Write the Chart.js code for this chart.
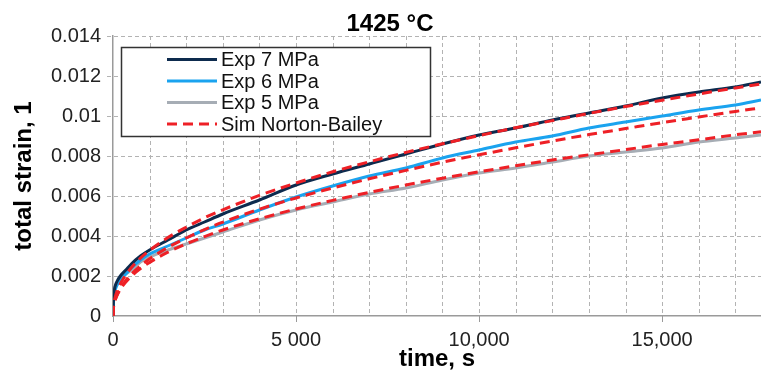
<!DOCTYPE html>
<html lang="en">
<head>
    <meta charset="UTF-8">
    <title>1425 °C creep strain</title>
    <script src="https://cdn.jsdelivr.net/npm/chart.js"></script>
    <style>
        body {
            margin: 0;
            font-family: "Liberation Sans", Arial, sans-serif;
        }
        .wrap {
            position: relative;
            width: 761px;
            height: 376px;
        }
    </style>
</head>
<body>
    <div class="wrap">
        <canvas id="creepChart" width="761" height="376"></canvas>
    </div>
    <script>
        // time, s
        const times = [0, 10, 30, 60, 100, 200, 350, 500, 750, 1000, 1500, 2000, 2500, 3000, 4000, 5000,
            6000, 7000, 8000, 9000, 10000, 11000, 12000, 13000, 14000, 15000, 16000, 17000, 17700];

        // measured total strain
        const exp7 = [0, 0.0007, 0.0012, 0.0015, 0.0017, 0.0020, 0.0023, 0.0026, 0.0030, 0.0033, 0.0038, 0.0043, 0.0047, 0.0051, 0.0058, 0.00655,
            0.0071, 0.0076, 0.0081, 0.0086, 0.00905, 0.0094, 0.0098, 0.01015, 0.0105, 0.0109, 0.0112, 0.01145, 0.0117];
        const exp6 = [0, 0.0006, 0.0010, 0.0013, 0.0015, 0.0018, 0.0021, 0.0024, 0.0028, 0.0031, 0.0035, 0.0039, 0.0043, 0.0046, 0.0053, 0.00595,
            0.0065, 0.0070, 0.0074, 0.0079, 0.0083, 0.0087, 0.0090, 0.0094, 0.0097, 0.0100, 0.0103, 0.01055, 0.0108];
        const exp5 = [0, 0.0007, 0.0012, 0.0015, 0.0016, 0.0018, 0.0021, 0.0023, 0.0027, 0.00295, 0.0033, 0.0036, 0.0039, 0.0042, 0.0048, 0.0053,
            0.0057, 0.0061, 0.0064, 0.0068, 0.00715, 0.0074, 0.0077, 0.0080, 0.0082, 0.0084, 0.0087, 0.0089, 0.00905];

        // simulated (Norton-Bailey)
        const sim7 = [0, 0.00043, 0.0007, 0.00095, 0.00119, 0.00161, 0.00206, 0.00241, 0.00289, 0.00328, 0.00392, 0.00444, 0.00491, 0.00531, 0.00603, 0.00665,
            0.00721, 0.00771, 0.00818, 0.00861, 0.00902, 0.00941, 0.00977, 0.01013, 0.01047, 0.01079, 0.0111, 0.0114, 0.0116];
        const sim6 = [0, 0.00036, 0.00059, 0.00081, 0.00101, 0.00139, 0.00178, 0.00209, 0.00251, 0.00286, 0.00343, 0.0039, 0.00432, 0.00469, 0.00534, 0.0059,
            0.0064, 0.00686, 0.00728, 0.00769, 0.00806, 0.00841, 0.00875, 0.00907, 0.00937, 0.00967, 0.00995, 0.01023, 0.0104];
        const sim5 = [0, 0.00037, 0.00059, 0.0008, 0.00099, 0.00134, 0.0017, 0.00199, 0.00237, 0.00268, 0.00319, 0.00361, 0.00397, 0.0043, 0.00486, 0.00535,
            0.00578, 0.00618, 0.00655, 0.00689, 0.00721, 0.00751, 0.0078, 0.00806, 0.00832, 0.00858, 0.00881, 0.00906, 0.00921];

        // axes
        const xGridValues = [0, 1000, 2000, 3000, 4000, 5000, 6000, 7000, 8000, 9000, 10000, 11000, 12000, 13000, 14000, 15000, 16000, 17000];
        const xLabelValues = [0, 5000, 10000, 15000];
        const xLabelTexts = ['0', '5 000', '10,000', '15,000'];
        const yTickValues = [0, 0.002, 0.004, 0.006, 0.008, 0.01, 0.012, 0.014];
        const yTickLabels = ['0', '0.002', '0.004', '0.006', '0.008', '0.01', '0.012', '0.014'];

        const FONT = '"Liberation Sans", Arial, sans-serif';
        const RED = '#ee2026';
        const GRID = '#b3b3b3';

        const legendItems = [
            { label: 'Exp 7 MPa', color: '#0d2b4e', dash: [] },
            { label: 'Exp 6 MPa', color: '#1aa3ef', dash: [] },
            { label: 'Exp 5 MPa', color: '#a6adb5', dash: [] },
            { label: 'Sim Norton-Bailey', color: RED, dash: [10, 6] }
        ];

        function pts(ys) {
            return times.map((t, i) => ({ x: t, y: ys[i] }));
        }

        const expLine = (label, data, color) => ({
            label: label, data: pts(data), borderColor: color, borderWidth: 3,
            pointRadius: 0, cubicInterpolationMode: 'monotone', order: 2
        });
        const simLine = (data) => ({
            label: 'Sim Norton-Bailey', data: pts(data), borderColor: RED, borderWidth: 3,
            borderDash: [10, 6], pointRadius: 0, cubicInterpolationMode: 'monotone', order: 1
        });

        const datasets = [
            expLine('Exp 7 MPa', exp7, '#0d2b4e'),
            expLine('Exp 6 MPa', exp6, '#1aa3ef'),
            expLine('Exp 5 MPa', exp5, '#a6adb5'),
            simLine(sim7),
            simLine(sim6),
            simLine(sim5)
        ];

        // dashed grid, placed with the chart's own scales
        const gridPlugin = {
            id: 'dashGrid',
            beforeDatasetsDraw(chart) {
                const { ctx, chartArea: a, scales: { x, y } } = chart;
                ctx.save();
                ctx.lineWidth = 1;
                ctx.strokeStyle = GRID;
                ctx.setLineDash([4, 3]);
                xGridValues.forEach(v => {
                    if (v === 0) return;
                    const px = Math.round(x.getPixelForValue(v)) + 0.5;
                    ctx.beginPath(); ctx.moveTo(px, a.top); ctx.lineTo(px, a.bottom); ctx.stroke();
                });
                yTickValues.forEach(v => {
                    if (v === 0) return;
                    const py = Math.round(y.getPixelForValue(v)) + 0.5;
                    ctx.beginPath(); ctx.moveTo(a.left - 6, py); ctx.lineTo(a.right, py); ctx.stroke();
                });
                // short tick marks under the labelled times
                ctx.setLineDash([]);
                ctx.strokeStyle = '#9a9a9a';
                xLabelValues.forEach(v => {
                    const px = Math.round(x.getPixelForValue(v)) + 0.5;
                    ctx.beginPath(); ctx.moveTo(px, a.bottom); ctx.lineTo(px, a.bottom + 6); ctx.stroke();
                });
                ctx.restore();
            }
        };

        // figure title and boxed legend
        const decorPlugin = {
            id: 'decor',
            afterDraw(chart) {
                const ctx = chart.ctx;
                ctx.save();
                ctx.font = 'bold 24px ' + FONT;
                ctx.fillStyle = '#000';
                ctx.textAlign = 'center';
                ctx.textBaseline = 'alphabetic';
                ctx.fillText('1425 °C', 390, 31);

                ctx.fillStyle = '#fff';
                ctx.fillRect(121, 47, 310, 90);
                ctx.lineWidth = 1.5;
                ctx.strokeStyle = '#333';
                ctx.strokeRect(121.5, 47.5, 309, 89);

                ctx.font = '20px ' + FONT;
                ctx.textAlign = 'left';
                ctx.textBaseline = 'middle';
                legendItems.forEach((it, i) => {
                    const yy = 59.5 + i * 21.5;
                    ctx.strokeStyle = it.color;
                    ctx.lineWidth = 3;
                    ctx.setLineDash(it.dash);
                    ctx.beginPath(); ctx.moveTo(167, yy); ctx.lineTo(217, yy); ctx.stroke();
                    ctx.fillStyle = '#111';
                    ctx.fillText(it.label, 221, yy + 1);
                });
                ctx.restore();
            }
        };

        const axisFont = { family: FONT, size: 20 };
        const titleFont = { family: FONT, size: 24, weight: 'bold' };

        new Chart(document.getElementById('creepChart'), {
            type: 'line',
            data: { datasets: datasets },
            options: {
                responsive: false,
                animation: false,
                layout: { padding: { top: 36, right: 0, left: 0, bottom: 0 } },
                plugins: {
                    legend: { display: false },
                    tooltip: { enabled: false }
                },
                scales: {
                    x: {
                        type: 'linear',
                        min: 0,
                        max: 17700,
                        afterBuildTicks: (s) => { s.ticks = xGridValues.map(v => ({ value: v })); },
                        afterFit: (s) => { s.height = 60; },
                        ticks: {
                            autoSkip: false,
                            maxRotation: 0,
                            padding: 6,
                            color: '#222',
                            font: axisFont,
                            callback: (v) => {
                                const i = xLabelValues.indexOf(v);
                                return i >= 0 ? xLabelTexts[i] : '';
                            }
                        },
                        grid: { color: 'rgba(0,0,0,0)', tickColor: 'rgba(0,0,0,0)', tickLength: 6 },
                        border: { display: true, color: '#9a9a9a', width: 1.5 },
                        title: {
                            display: true,
                            text: 'time, s',
                            color: '#000',
                            font: titleFont,
                            padding: { top: 2, bottom: 2 }
                        }
                    },
                    y: {
                        min: 0,
                        max: 0.014,
                        afterBuildTicks: (s) => { s.ticks = yTickValues.map(v => ({ value: v })); },
                        afterFit: (s) => { s.width = 113; },
                        ticks: {
                            padding: 6,
                            color: '#222',
                            font: axisFont,
                            callback: (v, i) => yTickLabels[i]
                        },
                        grid: { color: 'rgba(0,0,0,0)', tickColor: 'rgba(0,0,0,0)', tickLength: 6 },
                        border: { display: true, color: '#9a9a9a', width: 1.5 },
                        title: {
                            display: true,
                            text: 'total strain, 1',
                            color: '#000',
                            font: titleFont,
                            padding: { top: 10, bottom: 10 }
                        }
                    }
                }
            },
            plugins: [gridPlugin, decorPlugin]
        });
    </script>
</body>
</html>
